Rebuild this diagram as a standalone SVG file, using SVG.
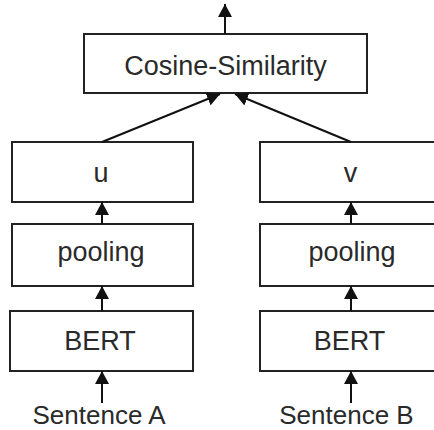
<svg xmlns="http://www.w3.org/2000/svg" width="434" height="430" viewBox="0 0 434 430">
<style>
.box{fill:#fff;stroke:#222;stroke-width:2}
.lbl{font-family:"Liberation Sans",Arial,sans-serif;font-size:27px;fill:#2a2a2a;text-anchor:middle}
.snt{font-size:26px}
.edge{stroke:#111;stroke-width:2;fill:none;marker-end:url(#ah)}
</style>
<defs>
<marker id="ah" markerUnits="userSpaceOnUse" markerWidth="14" markerHeight="14" refX="13" refY="7" orient="auto">
<path d="M0,0 L13,7 L0,14 Z" fill="#111"/>
</marker>
</defs>
<rect width="434" height="430" fill="#fff"/>
<g id="cosine"><rect class="box" x="84" y="34" width="283" height="59"/><text class="lbl" x="225.5" y="75">Cosine-Similarity</text></g>
<g id="u"><rect class="box" x="12" y="142" width="181" height="60"/><text class="lbl" x="101" y="182">u</text></g>
<g id="v"><rect class="box" x="260" y="142" width="181" height="60"/><text class="lbl" x="350.5" y="182">v</text></g>
<g id="poolingA"><rect class="box" x="12" y="224" width="181" height="62"/><text class="lbl" x="101" y="261">pooling</text></g>
<g id="poolingB"><rect class="box" x="260" y="224" width="181" height="62"/><text class="lbl" x="352" y="261">pooling</text></g>
<g id="bertA"><rect class="box" x="10" y="311" width="183" height="60"/><text class="lbl" x="100" y="350">BERT</text></g>
<g id="bertB"><rect class="box" x="260" y="311" width="181" height="60"/><text class="lbl" x="349.5" y="350">BERT</text></g>
<g id="sentA"><text class="lbl snt" x="99" y="424">Sentence A</text></g>
<g id="sentB"><text class="lbl snt" x="346.5" y="424">Sentence B</text></g>
<g id="connectors">
<path class="edge" d="M225,34 V4"/>
<path class="edge" d="M102,142 L220,94"/>
<path class="edge" d="M351,142 L235,94"/>
<path class="edge" d="M102,224 V202"/>
<path class="edge" d="M351,224 V202"/>
<path class="edge" d="M102,311 V286"/>
<path class="edge" d="M351,311 V286"/>
<path class="edge" d="M102,403 V371"/>
<path class="edge" d="M351,403 V371"/>
</g>
</svg>
